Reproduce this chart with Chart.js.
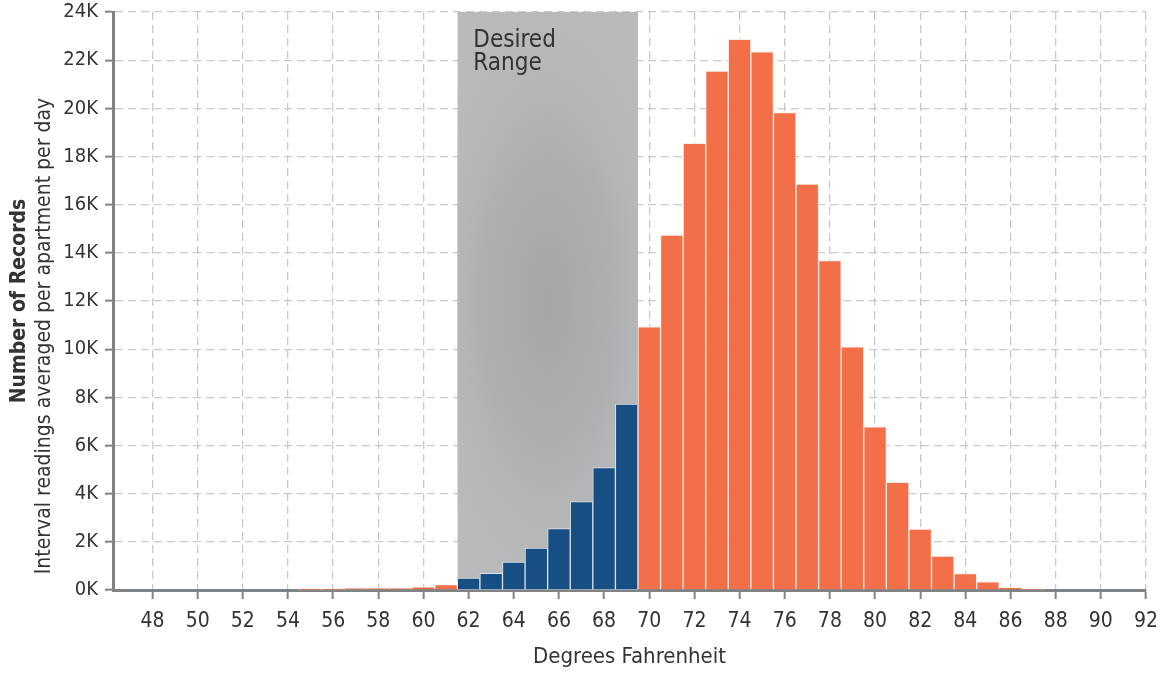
<!DOCTYPE html>
<html>
<head>
<meta charset="utf-8">
<script src="https://cdn.jsdelivr.net/npm/chart.js@4.4.1/dist/chart.umd.min.js"></script>
<style>
  html, body { margin: 0; padding: 0; background: #ffffff; }
  #wrap { width: 1162px; height: 673px; position: relative; }
</style>
</head>
<body>
<div id="wrap"><canvas id="c" width="1162" height="673"></canvas></div>
<script>
// ---- data ----
const temps = [55, 56, 57, 58, 59, 60, 61, 62, 63, 64, 65, 66, 67, 68, 69, 70, 71,
  72, 73, 74, 75, 76, 77, 78, 79, 80, 81, 82, 83, 84, 85, 86, 87];
const counts = [50, 50, 70, 70, 80, 130, 230, 490, 690, 1160, 1740, 2550, 3670, 5080, 7720, 10930, 14740,
  18550, 21550, 22870, 22350, 19820, 16850, 13680, 10100, 6780, 4470, 2530, 1410, 680, 340, 110, 40];
const xTicks = [48, 50, 52, 54, 56, 58, 60, 62, 64, 66, 68, 70, 72, 74, 76, 78, 80, 82, 84, 86, 88, 90, 92];
const yTicks = [0, 2000, 4000, 6000, 8000, 10000, 12000, 14000, 16000, 18000, 20000, 22000, 24000];
const desiredRange = [61.5, 69.5];
const desiredLabel = ['Desired', 'Range'];
const xTitle = 'Degrees Fahrenheit';
const yTitleMain = 'Number of Records';
const yTitleSub = 'Interval readings averaged per apartment per day';

const FONT = "'Liberation Sans Narrow', 'DejaVu Sans Condensed', 'Roboto', sans-serif";
const ORANGE = '#f26f4a';
const BLUE = '#174f84';
const AXIS = '#808386';
const TEXT = '#333333';

const inRange = t => t > desiredRange[0] && t < desiredRange[1];

const rangePlugin = {
  id: 'rangeBox',
  beforeDatasetsDraw(chart) {
    const { ctx, chartArea } = chart;
    const xs = chart.scales.x;
    const x0 = xs.getPixelForValue(desiredRange[0]);
    const x1 = xs.getPixelForValue(desiredRange[1]);
    const top = chartArea.top, bottom = chartArea.bottom;
    const w = x1 - x0, h = bottom - top;
    const cx = (x0 + x1) / 2, cy = top + h * 0.5;
    ctx.save();
    ctx.beginPath();
    ctx.rect(x0, top, w, h);
    ctx.clip();
    ctx.fillStyle = '#b8babc';
    ctx.fillRect(x0, top, w, h);
    ctx.translate(cx, cy);
    ctx.scale(1, 2.4);
    const r = w * 0.75;
    const g = ctx.createRadialGradient(0, 0, 0, 0, 0, r);
    g.addColorStop(0, '#a3a5a7');
    g.addColorStop(0.5, '#aeb0b2');
    g.addColorStop(1, 'rgba(184,186,188,0)');
    ctx.fillStyle = g;
    ctx.fillRect(-w, -h, w * 2, h * 2);
    ctx.restore();

    ctx.save();
    ctx.fillStyle = TEXT;
    ctx.font = "24px " + FONT;
    ctx.textAlign = 'left';
    ctx.textBaseline = 'alphabetic';
    ctx.fillText(desiredLabel[0], x0 + 16, top + 35);
    ctx.fillText(desiredLabel[1], x0 + 16, top + 58);
    ctx.restore();
  }
};

const titlePlugin = {
  id: 'titles',
  afterDraw(chart) {
    const { ctx, chartArea } = chart;
    ctx.save();
    ctx.fillStyle = TEXT;
    ctx.textAlign = 'center';
    ctx.textBaseline = 'middle';
    ctx.font = "22px " + FONT;
    ctx.fillText(xTitle, (chartArea.left + chartArea.right) / 2, 657);
    ctx.save();
    ctx.translate(20, 301);
    ctx.rotate(-Math.PI / 2);
    ctx.font = "bold 21px " + FONT;
    ctx.fillText(yTitleMain, 0, 0);
    ctx.restore();
    ctx.save();
    ctx.translate(45, 336);
    ctx.rotate(-Math.PI / 2);
    ctx.font = "21px " + FONT;
    ctx.fillText(yTitleSub, 0, 0);
    ctx.restore();
    ctx.restore();
  }
};

new Chart(document.getElementById('c'), {
  type: 'bar',
  data: {
    datasets: [{
      data: temps.map((t, i) => ({ x: t, y: counts[i] })),
      backgroundColor: temps.map(t => inRange(t) ? BLUE : ORANGE),
      borderColor: temps.map(t => inRange(t) ? 'rgba(225,228,232,0.9)' : 'rgba(255,235,225,0.9)'),
      borderWidth: 1,
      barPercentage: 1,
      categoryPercentage: 1
    }]
  },
  options: {
    responsive: false,
    animation: false,
    layout: { padding: { top: 12, right: 16, left: 0, bottom: 0 } },
    plugins: { legend: { display: false }, tooltip: { enabled: false } },
    scales: {
      x: {
        type: 'linear',
        min: 46.25,
        max: 92,
        offset: false,
        afterBuildTicks: axis => { axis.ticks = xTicks.map(v => ({ value: v })); },
        afterFit: axis => { axis.height = 83; axis.paddingRight = 0; axis.paddingLeft = 0; },
        grid: {
          offset: false,
          color: '#c9c9c9',
          lineWidth: 1.3,
          drawTicks: true,
          tickLength: 9,
          tickColor: AXIS,
          tickWidth: 2
        },
        border: { display: true, color: AXIS, width: 3, dash: [8, 5] },
        ticks: {
          color: TEXT,
          font: { family: FONT, size: 21 },
          padding: 10,
          maxRotation: 0,
          autoSkip: false
        }
      },
      y: {
        min: 0,
        max: 24000,
        afterBuildTicks: axis => { axis.ticks = yTicks.map(v => ({ value: v })); },
        afterFit: axis => { axis.width = 113; axis.paddingTop = 0; axis.paddingBottom = 0; },
        grid: {
          color: '#c9c9c9',
          lineWidth: 1.3,
          drawTicks: true,
          tickLength: 8,
          tickColor: AXIS,
          tickWidth: 2
        },
        border: { display: true, color: AXIS, width: 3, dash: [8, 5] },
        ticks: {
          color: TEXT,
          font: { family: FONT, size: 20 },
          padding: 7,
          callback: v => (v / 1000) + 'K'
        }
      }
    }
  },
  plugins: [rangePlugin, titlePlugin]
});
</script>
</body>
</html>
